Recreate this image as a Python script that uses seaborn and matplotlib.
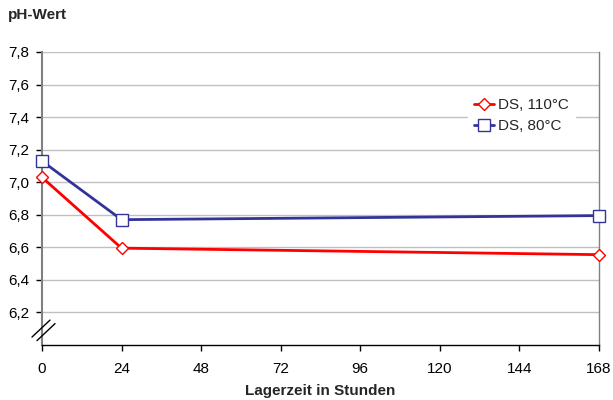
import pandas as pd
import matplotlib
matplotlib.use("Agg")
import matplotlib.pyplot as plt
import seaborn as sns
from matplotlib.ticker import FuncFormatter

sns.set_theme(style="white")
plt.rcParams['font.family'] = ['Liberation Sans', 'DejaVu Sans']

hours = [0, 24, 168]
ph_110 = [7.03, 6.595, 6.555]
ph_80 = [7.13, 6.77, 6.795]
xticks = [0, 24, 48, 72, 96, 120, 144, 168]
yticks = [6.2, 6.4, 6.6, 6.8, 7.0, 7.2, 7.4, 7.6, 7.8]

df110 = pd.DataFrame({"Stunden": hours, "pH": ph_110})
df80 = pd.DataFrame({"Stunden": hours, "pH": ph_80})

fig = plt.figure(figsize=(6.13, 4.0), dpi=100)
ax = fig.add_axes([0.0685, 0.1375, 0.9085, 0.7325])

sns.lineplot(data=df110, x="Stunden", y="pH", color="#FF0000", marker="D",
             markersize=6.5, markerfacecolor="white", markeredgecolor="#FF0000",
             markeredgewidth=1.0, linewidth=2, label="DS, 110°C", ax=ax, zorder=3)
sns.lineplot(data=df80, x="Stunden", y="pH", color="#333399", marker="s",
             markersize=8, markerfacecolor="white", markeredgecolor="#333399",
             markeredgewidth=1.0, linewidth=2, label="DS, 80°C", ax=ax, zorder=3)
for line in ax.get_lines():
    line.set_clip_on(False)

ax.set_xlim(0, 168)
ax.set_ylim(6.0, 7.8)
ax.set_xticks(xticks)
ax.set_yticks(yticks)
ax.yaxis.set_major_formatter(FuncFormatter(lambda v, p: f"{v:.1f}".replace(".", ",")))
ax.tick_params(axis="both", labelsize=11, length=4, width=1, colors="#000000",
               direction="out", left=True, bottom=True)
ax.tick_params(axis="x", pad=8)
ax.tick_params(axis="y", pad=5)
ax.yaxis.grid(True, color="#c0c0c0", linewidth=1)
ax.xaxis.grid(False)

ax.spines["top"].set_visible(False)
ax.spines["right"].set_color("#808080")
ax.spines["left"].set_color("#808080")
ax.spines["left"].set_linewidth(1.5)
ax.spines["bottom"].set_color("#000000")
ax.spines["bottom"].set_linewidth(1)
ax.spines["right"].set_linewidth(1)

ax.set_xlabel("Lagerzeit in Stunden", fontsize=11, fontweight="bold", labelpad=6)
ax.set_ylabel("")
fig.text(0.013, 0.963, "pH-Wert", fontsize=11, fontweight="bold", va="center", ha="left")

# axis break marks
for dx, dy in ((0.0, 0.0), (0.009, -0.012)):
    ax.plot([-0.018 + dx, 0.0144 + dx], [0.027 + dy, 0.085 + dy], transform=ax.transAxes,
            color="black", linewidth=1, clip_on=False, zorder=5)

leg = ax.legend(loc="upper left", bbox_to_anchor=(0.77, 0.853), frameon=True,
                fontsize=11, handlelength=1.3, handletextpad=0.3, labelspacing=0.45,
                borderpad=0.2, borderaxespad=0)
leg.get_frame().set_edgecolor("white")
leg.get_frame().set_facecolor("white")
leg.get_frame().set_alpha(1)
leg.get_frame().set_boxstyle("square", pad=0.2)

fig.savefig("out.png", dpi=100)
